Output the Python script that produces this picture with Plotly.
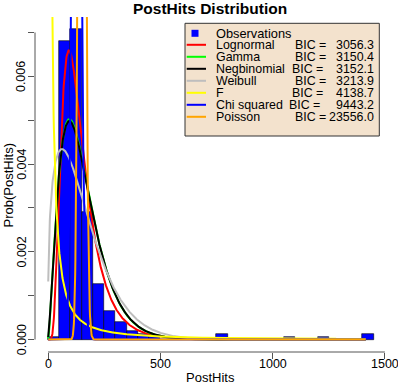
import math
import plotly.graph_objects as go

# ---------------- data ----------------
bin_starts = [0, 50, 100, 150, 200, 250, 300, 350, 400, 450, 750, 1050, 1200, 1400]
bin_density = [0.000067, 0.0068, 0.00707, 0.0029, 0.00127, 0.00066, 0.0004,
               0.0002, 0.00013, 0.000067, 0.00013, 0.000067, 0.000067, 0.00013]
bin_width = 50

dist_names = ["Lognormal", "Gamma", "Negbinomial", "Weibull", "F", "Chi squared", "Poisson"]
dist_bic = [3056.3, 3150.4, 3152.1, 3213.9, 4138.7, 9443.2, 23556.0]
dist_colors = ["#FF0000", "#00FF00", "#000000", "#BEBEBE", "#FFFF00", "#0000FF", "#FFA500"]

lognormal_params = [4.843, 0.557]          # meanlog, sdlog
gamma_params = [2.6, 59.6]                 # shape, scale
negbin_params = [2.6, 155.0]               # size, mu
weibull_params = [1.35, 169.0]             # shape, scale
f_params = [1.0, 1.0, 6.3]                 # df1, df2, scale
chisq_params = [127.0]                     # df
poisson_params = [151.0]                   # lambda

x_min, x_max = 1, 1414
x_ticks = [0, 500, 1000, 1500]
x_ticktext = ["0", "500", "1000", "1500"]
y_ticks = [0, 0.001, 0.002, 0.003, 0.004, 0.005, 0.006, 0.007]
y_ticktext = ["0.000", "", "0.002", "", "0.004", "", "0.006", ""]

# ---------------- densities ----------------
xs = list(range(x_min, x_max + 1))

def dlnorm(x, m, s):
    return math.exp(-(math.log(x) - m) ** 2 / (2 * s * s)) / (x * s * math.sqrt(2 * math.pi))

def dgamma(x, k, th):
    return math.exp((k - 1) * math.log(x) - x / th - math.lgamma(k) - k * math.log(th))

def dnbinom(x, r, m):
    return math.exp(math.lgamma(x + r) - math.lgamma(r) - math.lgamma(x + 1)
                    + r * math.log(r / (r + m)) + x * math.log(m / (r + m)))

def dweibull(x, k, lam):
    return (k / lam) * (x / lam) ** (k - 1) * math.exp(-(x / lam) ** k)

def df_scaled(x, d1, d2, s):
    u = x / s
    lb = math.lgamma(d1 / 2) + math.lgamma(d2 / 2) - math.lgamma((d1 + d2) / 2)
    lp = 0.5 * (d1 * math.log(d1 * u) + d2 * math.log(d2) - (d1 + d2) * math.log(d1 * u + d2)) \
        - math.log(u) - lb
    return math.exp(lp) / s

def dchisq(x, k):
    return math.exp((k / 2 - 1) * math.log(x) - x / 2 - (k / 2) * math.log(2) - math.lgamma(k / 2))

def dpois(x, lam):
    return math.exp(x * math.log(lam) - lam - math.lgamma(x + 1))

curves = [
    [dlnorm(x, *lognormal_params) for x in xs],
    [dgamma(x, *gamma_params) for x in xs],
    [dnbinom(x, *negbin_params) for x in xs],
    [dweibull(x, *weibull_params) for x in xs],
    [df_scaled(x, *f_params) for x in xs],
    [dchisq(x, *chisq_params) for x in xs],
    [dpois(x, *poisson_params) for x in xs],
]

# ---------------- figure ----------------
W, H = 398, 391
L, R, T, B = 35, 12, 17, 39
PW, PH = W - L - R, H - T - B

def px(xp):
    return (xp - L) / PW

def py(yp):
    return (H - B - yp) / PH

fig = go.Figure()
fig.add_trace(go.Bar(
    x=[b + bin_width / 2 for b in bin_starts], y=bin_density, width=bin_width,
    marker=dict(color="#0000FF", line=dict(color="#000000", width=0.6)),
    showlegend=False, hoverinfo="skip"))

for name, col, ys in zip(dist_names, dist_colors, curves):
    fig.add_trace(go.Scatter(x=xs, y=ys, mode="lines", name=name,
                             line=dict(color=col, width=2), showlegend=False))

font_family = "Liberation Sans, Arial, Helvetica, sans-serif"
shapes = [
    dict(type="line", xref="x", yref="paper", x0=0, x1=1500, y0=0, y1=0,
         line=dict(color="#555555", width=1)),
    dict(type="line", xref="paper", yref="y", x0=0, x1=0, y0=0, y1=0.007,
         line=dict(color="#555555", width=1)),
    # legend box
    dict(type="rect", xref="paper", yref="paper", x0=px(185), x1=px(379.3),
         y0=py(136), y1=py(23.3), fillcolor="#F3E2CD", line=dict(color="#333333", width=1)),
    dict(type="rect", xref="paper", yref="paper", x0=px(191.5), x1=px(198.5),
         y0=py(36.8), y1=py(29.8), fillcolor="#0000FF", line=dict(width=0)),
]
annotations = [
    dict(text="<b>PostHits Distribution</b>", xref="paper", yref="paper", x=px(210), y=py(8),
         xanchor="center", yanchor="middle", showarrow=False, font=dict(size=15.5, color="#000")),
    dict(text="PostHits", xref="paper", yref="paper", x=px(210), y=py(377.5),
         xanchor="center", yanchor="middle", showarrow=False, font=dict(size=13, color="#000")),
    dict(text="Prob(PostHits)", xref="paper", yref="paper", x=px(7.5), y=py(185),
         xanchor="center", yanchor="middle", showarrow=False, textangle=-90,
         font=dict(size=13, color="#000")),
    dict(text="Observations", xref="paper", yref="paper", x=px(214), y=py(33.3),
         xanchor="left", yanchor="middle", showarrow=False, font=dict(size=12.8, color="#000")),
]
for xv, xt in zip(x_ticks, x_ticktext):
    annotations.append(dict(text=xt, xref="x", yref="paper", x=xv, y=py(363.5),
                            xanchor="center", yanchor="middle", showarrow=False,
                            font=dict(size=12.5, color="#000")))
for yv, yt in zip(y_ticks, y_ticktext):
    if yt:
        annotations.append(dict(text=yt, xref="paper", yref="y", x=px(21.7), y=yv,
                                xanchor="center", yanchor="middle", showarrow=False,
                                textangle=-90, font=dict(size=12.5, color="#000")))

bic_x = [293, 293, 289.5, 292.5, 290, 286.5, 293]
for i, (name, bic, col) in enumerate(zip(dist_names, dist_bic, dist_colors)):
    yy = 45.3 + 12 * i
    shapes.append(dict(type="line", xref="paper", yref="paper", x0=px(186.7), x1=px(206),
                       y0=py(yy - 0.5), y1=py(yy - 0.5), line=dict(color=col, width=2)))
    annotations.append(dict(text=name, xref="paper", yref="paper", x=px(214), y=py(yy),
                            xanchor="left", yanchor="middle", showarrow=False,
                            font=dict(size=12.4, color="#000")))
    annotations.append(dict(text="BIC =", xref="paper", yref="paper", x=px(bic_x[i]), y=py(yy),
                            xanchor="left", yanchor="middle", showarrow=False,
                            font=dict(size=12.4, color="#000")))
    annotations.append(dict(text=f"{bic:.1f}", xref="paper", yref="paper", x=px(376), y=py(yy),
                            xanchor="right", yanchor="middle", showarrow=False,
                            font=dict(size=12.4, color="#000")))

fig.update_layout(
    width=W, height=H, autosize=False,
    margin=dict(l=L, r=R, t=T, b=B, pad=0),
    paper_bgcolor="#FFFFFF", plot_bgcolor="#FFFFFF",
    font=dict(family=font_family, size=12.5, color="#000"),
    showlegend=False, bargap=0,
    xaxis=dict(range=[-57.9, 1505], tickvals=x_ticks, ticks="outside", ticklen=6,
               tickcolor="#555555", showline=False, showgrid=False, zeroline=False,
               showticklabels=False, automargin=False),
    yaxis=dict(range=[-0.000283, 0.007353], tickvals=y_ticks,
               ticks="outside", ticklen=6, tickcolor="#555555",
               showline=False, showgrid=False, zeroline=False,
               showticklabels=False, automargin=False),
    shapes=shapes, annotations=annotations,
)

fig.write_html("out.html", config={"displayModeBar": False},
               post_script="document.body.style.margin='0px';document.body.style.overflow='hidden';")
